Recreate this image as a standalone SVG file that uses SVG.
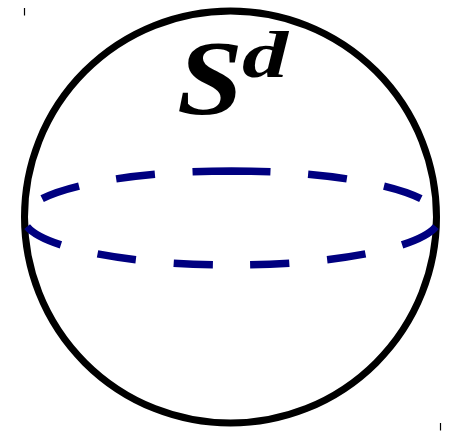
<svg xmlns="http://www.w3.org/2000/svg" width="456" height="433" viewBox="0 0 456 433">
<style>
.tick{stroke:#000;stroke-width:1.2;fill:none}
.sphere{stroke:#000;stroke-width:7;fill:none}
.equator{stroke:#000080;stroke-width:7.5;fill:none;stroke-dasharray:39 37.7}
.lbl{font-family:"Liberation Serif","Times New Roman",serif;font-weight:bold;font-style:italic;fill:#000}
</style>
<rect width="456" height="433" fill="#fff"/>
<g id="marks">
<line class="tick" x1="24.5" y1="8" x2="24.5" y2="15.5"/>
<line class="tick" x1="440.5" y1="423" x2="440.5" y2="430.5"/>
</g>
<g id="sphere">
<circle class="sphere" cx="230.5" cy="217" r="206"/>
</g>
<g id="connectors">
<path id="equator" class="equator" pathLength="882.7" d="M231.5 171 A208 47 0 0 1 231.5 265 A208 47 0 0 1 231.5 171"/>
</g>
<g id="label">
<text class="lbl" x="177" y="114" font-size="106" textLength="66" lengthAdjust="spacingAndGlyphs">S</text>
<text class="lbl" x="242" y="76.5" font-size="66" textLength="46" lengthAdjust="spacingAndGlyphs">d</text>
</g>
</svg>
